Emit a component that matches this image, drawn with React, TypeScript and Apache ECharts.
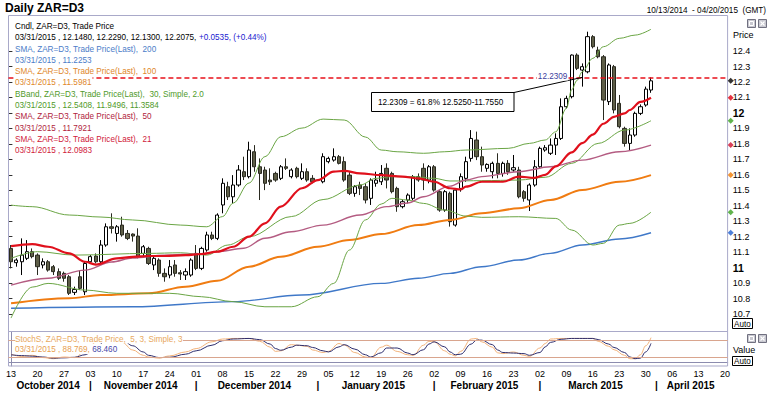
import React, { useEffect, useRef } from 'react';
import * as echarts from 'echarts';

// ---------- categories ----------
const FIRST_DAY = '2014-10-13';
const DAY_COUNT = 136; // weekdays 2014-10-13 .. 2015-04-20
function buildDates(start: string, n: number): string[] {
  const out: string[] = [];
  const d = new Date(start + 'T00:00:00Z');
  while (out.length < n) {
    const wd = d.getUTCDay();
    if (wd !== 0 && wd !== 6) out.push(d.toISOString().slice(0, 10));
    d.setUTCDate(d.getUTCDate() + 1);
  }
  return out;
}
const dates = buildDates(FIRST_DAY, DAY_COUNT);

// ---------- price candles: [open, high, low, close], one per weekday from 2014-10-13 ----------
const ohlc: ([number, number, number, number] | null)[] = [
  [11.124, 11.146, 10.995, 11.038], [11.032, 11.060, 11.006, 11.049], [11.038, 11.189, 10.952, 11.081], [11.060, 11.178, 11.049, 11.103], [11.103, 11.124, 11.060, 11.071],
  [11.081, 11.092, 10.952, 11.006], [11.017, 11.060, 10.995, 11.038], [11.038, 11.049, 10.974, 10.984], [11.006, 11.017, 10.952, 10.974], [10.974, 10.995, 10.920, 10.931],
  [10.963, 10.974, 10.909, 10.931], [10.941, 10.952, 10.823, 10.834], [10.840, 10.877, 10.823, 10.859], [10.941, 10.984, 10.855, 10.866], [10.844, 11.038, 10.823, 11.027],
  [11.038, 11.081, 11.027, 11.071], [11.075, 11.092, 11.027, 11.038], [11.038, 11.178, 11.027, 11.146], [11.146, 11.286, 11.135, 11.264], [11.264, 11.351, 11.221, 11.254],
  [11.221, 11.275, 11.168, 11.264], [11.275, 11.329, 11.200, 11.211], [11.221, 11.243, 11.178, 11.189], [11.217, 11.221, 11.168, 11.204], [11.204, 11.254, 11.060, 11.071],
  [11.092, 11.146, 11.071, 11.135], [11.124, 11.135, 11.017, 11.027], [11.017, 11.071, 10.984, 11.060], [11.049, 11.060, 10.941, 10.963], [10.963, 10.995, 10.909, 10.941],
  [10.952, 11.049, 10.931, 11.006], [11.017, 11.049, 10.941, 10.963], [10.967, 10.984, 10.920, 10.959], [10.952, 10.995, 10.920, 10.974], [10.952, 11.060, 10.941, 11.049],
  [11.092, 11.146, 10.984, 10.995], [10.995, 11.135, 10.984, 11.124], [11.114, 11.232, 11.103, 11.211], [11.211, 11.232, 11.178, 11.189], [11.189, 11.351, 11.178, 11.340],
  [11.405, 11.577, 11.351, 11.545], [11.523, 11.555, 11.437, 11.458], [11.458, 11.598, 11.415, 11.534], [11.534, 11.663, 11.523, 11.631], [11.620, 11.717, 11.566, 11.588],
  [11.588, 11.814, 11.577, 11.760], [11.749, 11.792, 11.620, 11.652], [11.652, 11.706, 11.437, 11.609], [11.631, 11.652, 11.501, 11.545], [11.566, 11.642, 11.534, 11.555],
  [11.609, 11.620, 11.555, 11.566], [11.577, 11.663, 11.566, 11.652], [11.652, 11.706, 11.631, 11.642], [11.588, 11.642, 11.577, 11.631], [11.642, 11.652, 11.577, 11.588],
  [11.577, 11.674, 11.566, 11.620], [11.620, 11.642, 11.555, 11.566], [11.577, 11.598, 11.545, 11.555], null, [11.555, 11.739, 11.545, 11.717],
  [11.685, 11.717, 11.674, 11.706], [11.695, 11.771, 11.685, 11.717], [11.717, 11.728, 11.667, 11.674], [11.685, 11.717, 11.555, 11.566], [11.598, 11.620, 11.469, 11.480],
  [11.480, 11.534, 11.458, 11.523], [11.534, 11.555, 11.469, 11.512], [11.523, 11.545, 11.415, 11.437], [11.448, 11.577, 11.405, 11.566], [11.545, 11.620, 11.523, 11.566],
  [11.555, 11.663, 11.534, 11.609], [11.642, 11.674, 11.512, 11.566], [11.609, 11.620, 11.480, 11.491], [11.512, 11.523, 11.361, 11.394], [11.394, 11.437, 11.383, 11.426],
  [11.437, 11.480, 11.415, 11.469], [11.448, 11.598, 11.437, 11.588], [11.588, 11.609, 11.555, 11.566], [11.642, 11.674, 11.501, 11.566], [11.566, 11.663, 11.545, 11.652],
  [11.652, 11.663, 11.491, 11.501], [11.491, 11.501, 11.361, 11.372], [11.372, 11.501, 11.361, 11.491], [11.480, 11.491, 11.265, 11.297], [11.275, 11.512, 11.265, 11.501],
  [11.512, 11.609, 11.491, 11.588], [11.577, 11.717, 11.555, 11.685], [11.706, 11.889, 11.685, 11.835], [11.825, 11.879, 11.695, 11.717], [11.717, 11.782, 11.620, 11.663],
  [11.642, 11.674, 11.620, 11.667], [11.620, 11.685, 11.577, 11.674], [11.674, 11.739, 11.577, 11.609], [11.609, 11.685, 11.588, 11.674], [11.674, 11.695, 11.600, 11.620],
  [11.631, 11.728, 11.620, 11.646], [11.631, 11.652, 11.448, 11.458], [11.491, 11.501, 11.426, 11.448], [11.437, 11.545, 11.366, 11.534], [11.534, 11.695, 11.523, 11.652],
  [11.652, 11.782, 11.642, 11.771], [11.760, 11.792, 11.749, 11.775], [11.739, 11.835, 11.728, 11.792], [11.792, 11.868, 11.728, 11.835], [11.835, 12.094, 11.825, 12.040],
  [12.040, 12.111, 12.029, 12.094], [12.105, 12.378, 12.094, 12.374], [12.374, 12.385, 12.277, 12.288], [12.277, 12.320, 12.170, 12.299], [12.266, 12.525, 12.256, 12.493],
  [12.493, 12.503, 12.417, 12.428], [12.406, 12.428, 12.353, 12.363], [12.363, 12.374, 11.954, 12.083], [12.073, 12.320, 12.051, 12.310], [12.299, 12.310, 11.997, 12.019],
  [12.062, 12.116, 11.900, 11.911], [11.900, 11.911, 11.782, 11.803], [11.803, 11.900, 11.755, 11.857], [11.857, 12.008, 11.846, 11.997], [11.997, 12.055, 11.986, 12.040],
  [12.051, 12.170, 12.040, 12.154], [12.148, 12.229, 12.130, 12.2075],
];

// ---------- indicator lines (at sample dates) ----------
const sma200: [string, number][] = [
  ['2014-10-13', 10.737], ['2014-11-13', 10.747], ['2014-12-10', 10.780], ['2014-12-29', 10.823], ['2015-01-19', 10.898],
  ['2015-01-28', 10.931], ['2015-02-05', 10.963], ['2015-02-13', 11.006], ['2015-02-24', 11.049], ['2015-03-04', 11.092],
  ['2015-03-12', 11.146], ['2015-03-23', 11.185], ['2015-03-31', 11.2253],
];
const sma100: [string, number][] = [
  ['2014-10-13', 10.769], ['2014-10-28', 10.802], ['2014-11-05', 10.823], ['2014-11-18', 10.834], ['2014-11-27', 10.877],
  ['2014-12-05', 10.915], ['2014-12-15', 11.006], ['2014-12-23', 11.070], ['2015-01-01', 11.135], ['2015-01-09', 11.178],
  ['2015-01-19', 11.217], ['2015-01-28', 11.275], ['2015-02-05', 11.308], ['2015-02-13', 11.351], ['2015-02-24', 11.383],
  ['2015-03-04', 11.437], ['2015-03-12', 11.502], ['2015-03-23', 11.555], ['2015-03-31', 11.5981],
];
const sma50: [string, number][] = [
  ['2014-10-13', 10.887], ['2014-10-22', 10.931], ['2014-10-31', 10.984], ['2014-11-07', 11.036], ['2014-11-13', 11.062],
  ['2014-11-21', 11.081], ['2014-12-02', 11.088], ['2014-12-05', 11.103], ['2014-12-12', 11.125], ['2014-12-18', 11.190],
  ['2014-12-25', 11.232], ['2015-01-02', 11.275], ['2015-01-13', 11.340], ['2015-01-20', 11.394], ['2015-01-26', 11.418],
  ['2015-01-29', 11.458], ['2015-02-05', 11.527], ['2015-02-10', 11.566], ['2015-02-13', 11.588], ['2015-02-24', 11.620],
  ['2015-03-04', 11.652], ['2015-03-12', 11.695], ['2015-03-23', 11.749], ['2015-03-31', 11.7921],
];
const sma21: [string, number][] = [
  ['2014-10-13', 11.139], ['2014-10-17', 11.152], ['2014-10-22', 11.135], ['2014-10-28', 11.092], ['2014-10-31', 11.038],
  ['2014-11-04', 11.020], ['2014-11-10', 11.060], ['2014-11-13', 11.070], ['2014-11-18', 11.075], ['2014-11-21', 11.075],
  ['2014-11-27', 11.081], ['2014-12-02', 11.088], ['2014-12-05', 11.103], ['2014-12-10', 11.135], ['2014-12-15', 11.200],
  ['2014-12-18', 11.286], ['2014-12-23', 11.394], ['2014-12-29', 11.513], ['2015-01-01', 11.566], ['2015-01-06', 11.620],
  ['2015-01-08', 11.626], ['2015-01-13', 11.609], ['2015-01-19', 11.598], ['2015-01-23', 11.588], ['2015-01-28', 11.577],
  ['2015-02-02', 11.555], ['2015-02-05', 11.513], ['2015-02-09', 11.506], ['2015-02-10', 11.523], ['2015-02-13', 11.555],
  ['2015-02-19', 11.555], ['2015-02-24', 11.588], ['2015-02-27', 11.580], ['2015-03-03', 11.600], ['2015-03-05', 11.655],
  ['2015-03-10', 11.745], ['2015-03-12', 11.805], ['2015-03-16', 11.860], ['2015-03-18', 11.930], ['2015-03-20', 11.975],
  ['2015-03-24', 11.997], ['2015-03-25', 12.019], ['2015-03-27', 12.072], ['2015-03-31', 12.0983],
];
const bbUpper: [string, number][] = [
  ['2014-10-13', 11.404], ['2014-10-17', 11.394], ['2014-10-28', 11.340], ['2014-11-05', 11.327], ['2014-11-13', 11.308],
  ['2014-11-26', 11.275], ['2014-12-03', 11.264], ['2014-12-08', 11.330], ['2014-12-10', 11.417], ['2014-12-15', 11.547],
  ['2014-12-18', 11.717], ['2014-12-23', 11.846], ['2014-12-29', 11.902], ['2015-01-02', 11.960], ['2015-01-08', 11.954],
  ['2015-01-14', 11.844], ['2015-01-19', 11.760], ['2015-01-22', 11.749], ['2015-01-29', 11.739], ['2015-02-04', 11.749],
  ['2015-02-10', 11.760], ['2015-02-20', 11.771], ['2015-02-26', 11.803], ['2015-03-03', 11.825], ['2015-03-05', 11.878],
  ['2015-03-09', 12.030], ['2015-03-10', 12.150], ['2015-03-11', 12.210], ['2015-03-12', 12.266], ['2015-03-16', 12.353],
  ['2015-03-18', 12.428], ['2015-03-23', 12.482], ['2015-03-26', 12.503], ['2015-03-31', 12.5408],
];
const bbMid: [string, number][] = [
  ['2014-10-13', 11.060], ['2014-10-20', 11.103], ['2014-10-29', 11.081], ['2014-11-18', 11.092], ['2014-11-26', 11.096],
  ['2014-12-03', 11.081], ['2014-12-09', 11.146], ['2014-12-15', 11.200], ['2014-12-25', 11.330], ['2015-01-02', 11.440],
  ['2015-01-13', 11.534], ['2015-01-16', 11.577], ['2015-01-21', 11.588], ['2015-01-27', 11.588], ['2015-02-02', 11.577],
  ['2015-02-05', 11.560], ['2015-02-13', 11.562], ['2015-02-24', 11.566], ['2015-03-03', 11.584], ['2015-03-10', 11.674],
  ['2015-03-17', 11.803], ['2015-03-24', 11.889], ['2015-03-31', 11.9496],
];
const bbLower: [string, number][] = [
  ['2014-10-13', 10.674], ['2014-10-17', 10.874], ['2014-10-22', 10.898], ['2014-10-31', 10.855], ['2014-11-10', 10.834],
  ['2014-11-24', 10.834], ['2014-12-02', 10.812], ['2014-12-10', 10.780], ['2014-12-18', 10.747], ['2014-12-25', 10.747],
  ['2015-01-01', 10.812], ['2015-01-06', 10.898], ['2015-01-09', 11.114], ['2015-01-14', 11.308], ['2015-01-19', 11.411],
  ['2015-01-21', 11.448], ['2015-01-26', 11.437], ['2015-01-29', 11.415], ['2015-02-04', 11.372], ['2015-02-10', 11.333],
  ['2015-02-13', 11.325], ['2015-02-24', 11.329], ['2015-03-05', 11.318], ['2015-03-10', 11.243], ['2015-03-16', 11.146],
  ['2015-03-18', 11.157], ['2015-03-23', 11.275], ['2015-03-25', 11.286], ['2015-03-31', 11.3584],
];

// ---------- slow stochastic (5, 3, 3) ----------
const stochDates = [
  '2014-10-13', '2014-10-15', '2014-10-17', '2014-10-21', '2014-10-23', '2014-10-27', '2014-10-29', '2014-10-31', '2014-11-04', '2014-11-06',
  '2014-11-10', '2014-11-11', '2014-11-13', '2014-11-17', '2014-11-18', '2014-11-20', '2014-11-24', '2014-11-27', '2014-12-01', '2014-12-04',
  '2014-12-08', '2014-12-10', '2014-12-15', '2014-12-17', '2014-12-19', '2014-12-22', '2014-12-23', '2014-12-25', '2014-12-26', '2014-12-30',
  '2014-12-31', '2015-01-02', '2015-01-05', '2015-01-07', '2015-01-08', '2015-01-12', '2015-01-14', '2015-01-15', '2015-01-19', '2015-01-20',
  '2015-01-22', '2015-01-26', '2015-01-27', '2015-01-29', '2015-01-30', '2015-02-02', '2015-02-04', '2015-02-05', '2015-02-06', '2015-02-09',
  '2015-02-11', '2015-02-12', '2015-02-13', '2015-02-17', '2015-02-18', '2015-02-19', '2015-02-23', '2015-02-25', '2015-02-26', '2015-03-02',
  '2015-03-03', '2015-03-04', '2015-03-06', '2015-03-10', '2015-03-12', '2015-03-16', '2015-03-17', '2015-03-19', '2015-03-20', '2015-03-24',
  '2015-03-25', '2015-03-26', '2015-03-27', '2015-03-30', '2015-03-31',
];
const stochK = [
  30, 22, 26, 18, 14, 20, 18, 40, 72, 88,
  86, 72, 45, 26, 20, 16, 24, 38, 50, 74,
  84, 86, 86, 76, 55, 40, 42, 64, 62, 58,
  45, 36, 40, 68, 62, 36, 20, 18, 55, 62,
  40, 28, 26, 62, 76, 74, 42, 30, 24, 40,
  84, 86, 74, 55, 35, 32, 38, 26, 22, 52,
  68, 84, 86, 86, 86, 86, 76, 58, 46, 26,
  14, 14, 28, 60, 88.769,
];
const stochD = [
  28, 25, 23, 20, 16, 17, 19, 28, 55, 78,
  86, 82, 60, 38, 26, 18, 19, 30, 42, 62,
  78, 84, 86, 82, 66, 50, 44, 55, 62, 60,
  54, 42, 38, 56, 64, 48, 28, 20, 35, 52,
  52, 34, 28, 46, 66, 74, 56, 38, 28, 30,
  66, 80, 80, 64, 45, 36, 34, 32, 26, 36,
  56, 72, 83, 86, 86, 86, 82, 66, 54, 36,
  20, 14, 16, 38, 68.46,
];

// ---------- axis ticks & annotation ----------
const yTicks = [10.7, 10.8, 10.9, 11, 11.1, 11.2, 11.3, 11.4, 11.5, 11.6, 11.7, 11.8, 11.9, 12, 12.1, 12.2, 12.3, 12.4];
const FIB_LEVEL = 12.2309;
const FIB_PCT = 61.8;
const FIB_HIGH = 12.525;
const FIB_LOW = 11.755;
const MONTHS = ['January', 'February', 'March', 'April', 'May', 'June', 'July', 'August', 'September', 'October', 'November', 'December'];

const FONT = '"Liberation Sans", Arial, sans-serif';
const FRAME = '#a9a9c9';
const AXIS = '#8c8cae';
const C = {
  sma200: '#3f78c8', sma100: '#f07c12', bb: '#6aa544', sma50: '#b45c82', sma21: '#e0101c',
  t200: '#4a7cc8', t100: '#e0872a', tbb: '#4f9a2a', t50: '#b0243c', t21: '#d0203a',
};

function fmtDate(s: string) {
  return `${s.slice(5, 7)}/${s.slice(8, 10)}/${s.slice(0, 4)}`;
}
const last = (a: [string, number][]) => a[a.length - 1][1];

export default function App() {
  const ref = useRef<HTMLDivElement>(null);
  useEffect(() => {
    if (!ref.current) return;
    const chart = echarts.init(ref.current, undefined, { renderer: 'svg' });

    const GL = 8.4;
    const GW = 719.3;

    // month helpers
    const monthFirst: number[] = [];
    const monthMid: { v: number; name: string }[] = [];
    let start = 0;
    for (let i = 1; i <= dates.length; i++) {
      if (i === dates.length || dates[i].slice(0, 7) !== dates[i - 1].slice(0, 7)) {
        const d = dates[start];
        monthMid.push({ v: (start + i - 1) / 2, name: `${MONTHS[Number(d.slice(5, 7)) - 1]} ${d.slice(0, 4)}` });
        if (i < dates.length) monthFirst.push(i);
        start = i;
      }
    }
    const mondays = new Set<number>();
    dates.forEach((d, i) => {
      if (new Date(d + 'T00:00:00Z').getUTCDay() === 1) mondays.add(i);
    });

    const candleData = ohlc.map((r) => (r ? [r[0], r[3], r[2], r[1]] : ['-', '-', '-', '-']));
    const lastBar = ohlc[ohlc.length - 1]!;
    const prevBar = ohlc[ohlc.length - 2]!;
    const lastDate = fmtDate(dates[ohlc.length - 1]);
    const chg = lastBar[3] - prevBar[3];
    const pct = (chg / prevBar[3]) * 100;

    const line = (name: string, data: [string, number][], color: string, width: number) => ({
      type: 'line', name, xAxisIndex: 0, yAxisIndex: 0, data, showSymbol: false, symbol: 'none',
      smooth: 0.35, smoothMonotone: 'x', lineStyle: { color, width }, z: 3, silent: true,
    });

    const markerData = [
      { value: [1, lastBar[3]], itemStyle: { color: '#000000' } },
      { value: [1, last(sma21)], itemStyle: { color: '#e00010' } },
      { value: [1, last(bbMid)], itemStyle: { color: '#3aa020' } },
      { value: [1, last(sma50)], itemStyle: { color: '#d01030' } },
      { value: [1, last(sma100)], itemStyle: { color: '#f07a00' } },
      { value: [1, last(bbLower)], itemStyle: { color: '#3aa020' } },
      { value: [1, last(sma200)], itemStyle: { color: '#2060d0' } },
    ];

    const txt = (x: number, y: number, text: string, fill: string, o: any = {}) => ({
      type: 'text', x, y, scaleX: o.sx ?? 1, silent: true, z: 100,
      style: {
        text, fill, fontSize: o.size ?? 9.5, fontFamily: FONT, fontWeight: o.bold ? 'bold' : 'normal',
        align: o.align ?? 'left', verticalAlign: 'middle', rich: o.rich,
        backgroundColor: o.bg, padding: o.pad,
      },
    });

    const LX = 15;
    const LY = 25.7;
    const LH = 11.3;
    const SX = 0.86;
    const lo = (fill: string) => ({ sx: SX, bg: '#ffffff', pad: [1, 1, 1, 0] });
    const legendRows: any[] = [
      txt(LX, LY, 'Cndl, ZAR=D3, Trade Price', '#000', lo('#000')),
      txt(LX, LY + LH, `{k|${lastDate} , ${lastBar[0].toFixed(4)}, ${lastBar[1].toFixed(4)}, ${lastBar[2].toFixed(4)}, ${lastBar[3].toFixed(4)}, }{c|${chg >= 0 ? '+' : ''}${chg.toFixed(4)}, (${chg >= 0 ? '+' : ''}${pct.toFixed(2)}%)}`, '#000', {
        ...lo('#000'), rich: { k: { fill: '#000', color: '#000', fontSize: 9.5, fontFamily: FONT }, c: { fill: '#2020d0', color: '#2020d0', fontSize: 9.5, fontFamily: FONT } },
      }),
      txt(LX, LY + 2 * LH, 'SMA, ZAR=D3, Trade Price(Last),  200', C.t200, lo(C.t200)),
      txt(LX, LY + 3 * LH, `${lastDate} , ${last(sma200).toFixed(4)}`, C.t200, lo(C.t200)),
      txt(LX, LY + 4 * LH, 'SMA, ZAR=D3, Trade Price(Last),  100', C.t100, lo(C.t100)),
      txt(LX, LY + 5 * LH, `${lastDate} , ${last(sma100).toFixed(4)}`, C.t100, lo(C.t100)),
      txt(LX, LY + 6 * LH, 'BBand, ZAR=D3, Trade Price(Last),  30, Simple, 2.0', C.tbb, lo(C.tbb)),
      txt(LX, LY + 7 * LH, `${lastDate} , ${last(bbUpper).toFixed(4)}, ${last(bbMid).toFixed(4)}, ${last(bbLower).toFixed(4)}`, C.tbb, lo(C.tbb)),
      txt(LX, LY + 8 * LH, 'SMA, ZAR=D3, Trade Price(Last),  50', C.t50, lo(C.t50)),
      txt(LX, LY + 9 * LH, `${lastDate} , ${last(sma50).toFixed(4)}`, C.t50, lo(C.t50)),
      txt(LX, LY + 10 * LH, 'SMA, ZAR=D3, Trade Price(Last),  21', C.t21, lo(C.t21)),
      txt(LX, LY + 11 * LH, `${lastDate} , ${last(sma21).toFixed(4)}`, C.t21, lo(C.t21)),
    ];

    const fibText = `${FIB_LEVEL.toFixed(4)} = ${FIB_PCT}% ${FIB_HIGH.toFixed(4)}-${FIB_LOW.toFixed(4)}`;

    const icon = (x: number, y: number, close: boolean) => ({
      type: 'group', x, y, silent: true, z: 100,
      children: [
        { type: 'rect', shape: { x: 0, y: 0, width: 8, height: 8 }, style: { fill: '#c8c8d0', stroke: '#707080', lineWidth: 1 } },
        close
          ? { type: 'group', children: [
              { type: 'line', shape: { x1: 2, y1: 2, x2: 6, y2: 6 }, style: { stroke: '#ffffff', lineWidth: 1.2 } },
              { type: 'line', shape: { x1: 6, y1: 2, x2: 2, y2: 6 }, style: { stroke: '#ffffff', lineWidth: 1.2 } },
            ] }
          : { type: 'rect', shape: { x: 2, y: 2, width: 4, height: 4 }, style: { fill: 'none', stroke: '#ffffff', lineWidth: 1 } },
      ],
    });

    const option: any = {
      animation: false,
      backgroundColor: '#ffffff',
      grid: [
        { left: GL, width: GW, top: 20.1, height: 309.4 },
        { left: GL, width: GW, top: 331.7, height: 34.3 },
      ],
      xAxis: [
        { type: 'category', gridIndex: 0, data: dates, boundaryGap: true, axisLine: { show: false }, axisTick: { show: false }, axisLabel: { show: false }, splitLine: { show: false } },
        {
          type: 'category', gridIndex: 1, data: dates, boundaryGap: true,
          axisLine: { show: true, lineStyle: { color: AXIS, width: 1 } }, axisTick: { show: false }, splitLine: { show: false },
          axisLabel: {
            interval: (i: number) => mondays.has(i), formatter: (v: string) => v.slice(8, 10),
            fontSize: 9, color: '#000', margin: 3, fontFamily: FONT, hideOverlap: false,
          },
        },
        {
          type: 'value', gridIndex: 1, min: -0.5, max: DAY_COUNT - 0.5, position: 'bottom',
          axisLine: { show: false }, axisTick: { show: false }, splitLine: { show: false },
          axisLabel: {
            customValues: monthMid.map((m) => m.v),
            formatter: (v: number) => (monthMid.find((m) => Math.abs(m.v - v) < 1e-6) || { name: '' }).name,
            fontSize: 10, fontWeight: 'bold', color: '#000', margin: 14, fontFamily: FONT,
          },
        },
        {
          type: 'value', gridIndex: 1, min: -0.5, max: DAY_COUNT - 0.5, position: 'bottom',
          axisLine: { show: false }, axisTick: { show: false }, splitLine: { show: false },
          axisLabel: { customValues: monthFirst, formatter: () => '|', fontSize: 10, fontWeight: 'bold', color: '#000', margin: 14, fontFamily: FONT },
        },
        { type: 'value', gridIndex: 0, min: 0, max: 1, show: false },
      ],
      yAxis: [
        {
          type: 'value', gridIndex: 0, position: 'right', min: 10.6, max: 12.6, interval: 0.1,
          axisLine: { show: true, lineStyle: { color: AXIS } },
          axisTick: { show: true, length: 4, customValues: yTicks, lineStyle: { color: '#333' } },
          splitLine: { show: false },
          axisLabel: {
            customValues: yTicks, margin: 5, fontSize: 9, color: '#000', fontFamily: FONT,
            formatter: (v: number) => {
              const r = Math.round(v * 10) / 10;
              return Number.isInteger(r) ? `{b|${r}}` : r.toFixed(1);
            },
            rich: { b: { fontWeight: 'bold', fontSize: 10.5, color: '#000', fontFamily: FONT } },
          },
        },
        {
          type: 'value', gridIndex: 1, position: 'right', min: -12, max: 110,
          axisLine: { show: true, lineStyle: { color: AXIS } }, axisTick: { show: false }, axisLabel: { show: false }, splitLine: { show: false },
        },
      ],
      series: [
        {
          type: 'candlestick', name: 'ZAR=D3', xAxisIndex: 0, yAxisIndex: 0, data: candleData, barWidth: '70%', z: 2, silent: true,
          itemStyle: { color: '#ffffff', color0: '#5e5e48', borderColor: '#000000', borderColor0: '#2a2a20', borderWidth: 1 },
          markLine: {
            silent: true, symbol: ['none', 'none'], label: { show: false },
            lineStyle: { color: '#e8101a', type: [5, 3], width: 1.6 },
            data: [{ yAxis: FIB_LEVEL }],
          },
        },
        line('SMA 200', sma200, C.sma200, 1.4),
        line('SMA 100', sma100, C.sma100, 2),
        line('BB upper', bbUpper, C.bb, 1),
        line('BB mid', bbMid, C.bb, 1),
        line('BB lower', bbLower, C.bb, 1),
        line('SMA 50', sma50, C.sma50, 1.4),
        line('SMA 21', sma21, C.sma21, 2.2),
        {
          type: 'scatter', xAxisIndex: 4, yAxisIndex: 0, data: markerData, symbol: 'diamond', symbolSize: 6,
          symbolOffset: [3, 0], clip: false, z: 6, silent: true,
        },
        {
          type: 'line', name: 'Stoch %K', xAxisIndex: 1, yAxisIndex: 1, data: stochDates.map((d, i) => [d, stochK[i]]),
          showSymbol: false, symbol: 'none', smooth: 0.4, smoothMonotone: 'x', lineStyle: { color: '#f2b27a', width: 1 }, z: 3, silent: true,
          markLine: {
            silent: true, symbol: ['none', 'none'], label: { show: false },
            lineStyle: { color: '#d9a58e', type: 'solid', width: 1 },
            data: [{ yAxis: 80 }, { yAxis: 20 }],
          },
        },
        {
          type: 'line', name: 'Stoch %D', xAxisIndex: 1, yAxisIndex: 1, data: stochDates.map((d, i) => [d, stochD[i]]),
          showSymbol: false, symbol: 'none', smooth: 0.4, smoothMonotone: 'x', lineStyle: { color: '#2e2e6e', width: 1 }, z: 3, silent: true,
        },
      ],
      graphic: [
        // frames
        { type: 'rect', silent: true, z: 1, shape: { x: 8.5, y: 15.5, width: GW - 0.2, height: 316 }, style: { fill: 'none', stroke: FRAME, lineWidth: 1 } },
        { type: 'rect', silent: true, z: 1, shape: { x: 8.5, y: 331.5, width: GW - 0.2, height: 34.5 }, style: { fill: 'none', stroke: FRAME, lineWidth: 1 } },
        // title & range
        txt(5, 8, 'Daily ZAR=D3', '#000', { size: 12, bold: true }),
        txt(766, 10, `${fmtDate(dates[0])}  - ${fmtDate(dates[dates.length - 1])}  (GMT)`, '#000', { sx: SX, align: 'right' }),
        ...legendRows,
        // stochastic legend
        txt(LX, 338.3, 'StochS, ZAR=D3, Trade Price,  5, 3, Simple, 3', '#e8a860', { sx: SX, bg: '#ffffff' }),
        txt(LX, 349, `{o|${lastDate} , ${stochK[stochK.length - 1].toFixed(3)}, }{p|${stochD[stochD.length - 1].toFixed(3)}}`, '#e8a860', {
          sx: SX, bg: '#ffffff',
          rich: { o: { fill: '#e8a050', color: '#e8a050', fontSize: 9.5, fontFamily: FONT }, p: { fill: '#4848a8', color: '#4848a8', fontSize: 9.5, fontFamily: FONT } },
        }),
        // fib annotation
        txt(537, 75.5, FIB_LEVEL.toFixed(4), '#3c3c9c', { sx: SX, bg: '#ffffff', pad: [0, 1] }),
        { type: 'line', silent: true, z: 99, shape: { x1: 514, y1: 92.5, x2: 583, y2: 77.2 }, style: { stroke: '#000', lineWidth: 1 } },
        { type: 'rect', silent: true, z: 99, shape: { x: 371.5, y: 92.5, width: 142.5, height: 19 }, style: { fill: '#ffffff', stroke: '#000', lineWidth: 1 } },
        txt(378, 102, fibText, '#000', { sx: SX }),
        // right side controls
        txt(733, 35, 'Price', '#000', { sx: 0.95 }),
        icon(747.5, 19.5, false),
        icon(758.5, 19.5, true),
        { type: 'rect', silent: true, z: 99, shape: { x: 732.5, y: 318.5, width: 20, height: 10 }, style: { fill: '#fff', stroke: '#000', lineWidth: 1 } },
        txt(734, 323.5, 'Auto', '#000', { size: 9, sx: 0.9 }),
        icon(747.5, 334.5, false),
        icon(758.5, 334.5, true),
        txt(733, 350, 'Value', '#000', { sx: 0.95 }),
        { type: 'rect', silent: true, z: 99, shape: { x: 732.5, y: 356.5, width: 20, height: 9 }, style: { fill: '#fff', stroke: '#000', lineWidth: 1 } },
        txt(734, 361, 'Auto', '#000', { size: 9, sx: 0.9 }),
      ],
    };

    chart.setOption(option);
    return () => chart.dispose();
  }, []);

  return <div ref={ref} style={{ width: 768, height: 394, position: 'absolute', left: 0, top: 0 }} />;
}
